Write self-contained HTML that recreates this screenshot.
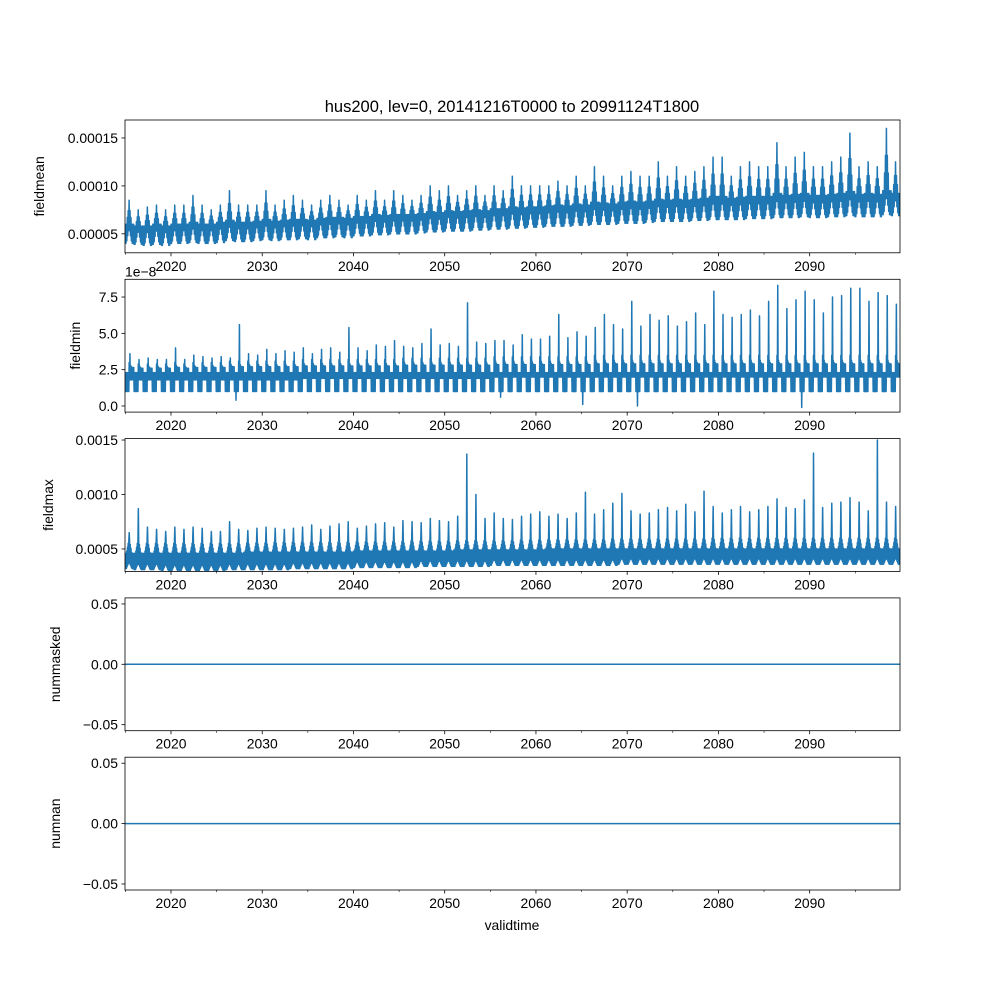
<!DOCTYPE html>
<html><head><meta charset="utf-8">
<style>
body{margin:0;background:#fff}
svg{display:block;font-family:"Liberation Sans","DejaVu Sans",sans-serif}
</style></head>
<body>
<svg id="chart" width="1000" height="1000" viewBox="0 0 1000 1000" xmlns="http://www.w3.org/2000/svg">
<rect width="1000" height="1000" fill="#fff"/>
<text x="512" y="112" font-size="16.5" text-anchor="middle">hus200, lev=0, 20141216T0000 to 20991124T1800</text>
<text x="512" y="930" font-size="13.9" text-anchor="middle">validtime</text>
</svg>
<script>
// ---- data ----
const years = [];
for (let y = 2015; y <= 2099; y++) years.push(y);
const meanPeak = [8.5,7.5,7.8,8,7.5,8,8,9,8,7.5,8,9.5,8,8,8,9.5,8,8.5,9,8.5,8,8.5,9,8.5,8,9,8.5,9.5,8.5,9.5,9,8.5,9,10,9.5,10,9,9.5,10,9,10,9.5,11,10,10,10,10,10.5,10,11,10,12,11,10,11,11.5,11,11,12.5,11,12,11,11.5,12,13,13,11,12,12.5,12,12,14.5,12,13,13.5,12,12,12.5,13,15.5,12,12.5,12,16,12.5];
const meanMid = [6,5.8,5.8,6,5.8,6,6,6.2,6,6,6.2,6.4,6.2,6.2,6.3,6.5,6.3,6.4,6.5,6.5,6.4,6.6,6.7,6.7,6.6,6.8,6.8,7,6.9,7,7,7,7.1,7.3,7.2,7.4,7.3,7.4,7.5,7.4,7.6,7.6,7.8,7.7,7.8,7.8,7.9,8,7.9,8.1,8,8.3,8.2,8.1,8.3,8.4,8.3,8.4,8.6,8.5,8.6,8.5,8.6,8.7,8.9,8.9,8.7,8.8,8.9,8.9,8.9,9.2,9,9.1,9.2,9,9,9.1,9.2,9.4,9.1,9.2,9.1,9.5,9.2];
const meanLow = [4,3.9,3.8,3.9,3.8,4,4,4.1,4,4,4.1,4.3,4.2,4.2,4.3,4.4,4.3,4.4,4.4,4.5,4.4,4.6,4.6,4.7,4.6,4.8,4.8,4.9,4.9,5,5,5,5.1,5.2,5.2,5.3,5.3,5.3,5.4,5.4,5.5,5.5,5.6,5.6,5.7,5.7,5.8,5.8,5.8,5.9,5.9,6,6,6,6.1,6.1,6.1,6.2,6.3,6.3,6.3,6.3,6.4,6.4,6.5,6.5,6.5,6.5,6.6,6.6,6.6,6.7,6.7,6.7,6.8,6.7,6.7,6.8,6.8,6.9,6.8,6.8,6.8,7,6.9];
const minSpike = [3.6,3.2,3.3,3.2,3.2,4,3.2,3.5,3.4,3.3,3.4,3.3,5.6,3.6,3.5,3.9,3.6,3.8,3.7,4,3.6,3.9,4,3.7,5.4,4,3.8,4.2,4.1,4.5,4.1,4,4.3,5.3,4.2,4.3,4.1,7.1,4.4,4.3,4.5,4.5,4.2,4.9,4.6,4.6,4.8,6.3,4.7,5.1,4.8,5.4,6.3,5.6,5.3,7.2,5.5,6.3,5.9,6.2,5.5,5.8,6.4,5.6,7.9,6.3,6.1,6.3,6.6,6.2,7.2,8.3,6.7,7.3,7.9,7.3,6.4,7.5,7.6,8.1,8.1,7.2,7.8,7.6,7];
const minHigh = [3,2.9,2.9,2.9,2.9,3,2.9,3,3,3,3,3.1,3.1,3.1,3.1,3.1,3.1,3.1,3.1,3.2,3.2,3.2,3.2,3.2,3.2,3.2,3.2,3.2,3.2,3.2,3.3,3.3,3.3,3.3,3.3,3.3,3.3,3.3,3.3,3.3,3.4,3.4,3.4,3.4,3.4,3.4,3.4,3.4,3.4,3.4,3.4,3.5,3.5,3.5,3.5,3.5,3.5,3.5,3.5,3.5,3.5,3.5,3.5,3.5,3.5,3.5,3.5,3.5,3.5,3.5,3.5,3.5,3.5,3.5,3.5,3.5,3.5,3.5,3.5,3.5,3.5,3.5,3.5,3.5,3.5];
const minLow = [1,1,1,1,1,1,1,1,1,1,1,1,0.4,1,1,1,1,1,1,1,1,1,1,1,1,1,1,1,1,1,1,1,1,1,1,1,1,1,1,1,1,0.6,1,1,1,1,1,1,1,1,0.1,1,1,1,1,1,0,1,1,1,1,1,1,1,1,1,1,1,1,1,1,1,1,1,-0.1,1,1,1,1,1,1,1,1,1,1];
const minCore = [1.8,1.8,1.8,1.8,1.8,1.8,1.8,1.8,1.8,1.8,1.8,1.8,1.8,1.8,1.8,1.8,1.8,1.8,1.8,1.9,1.9,1.9,1.9,1.9,1.9,1.9,1.9,1.9,1.9,1.9,1.9,1.9,1.9,1.9,1.9,1.9,1.9,1.9,1.9,1.9,2,2,2,2,2,2,2,2,2,2,2,2,2,2,2,2,2,2,2,2,2,2,2,2,2,2,2,2,2,2,2,2,2,2,2,2,2,2,2,2,2,2,2,2,2];
const maxSpike = [6.5,8.7,7,6.8,6.6,7,6.8,7,6.9,6.6,6.6,7.5,6.8,6.7,6.9,7,6.9,6.8,6.9,7,7.2,6.8,7.1,7.3,7.5,6.9,7.1,7.3,7.4,7,7.6,7.5,7.4,7.8,7.6,7.5,8,13.7,10,7.8,8.3,7.8,7.7,8,8.2,8.4,8,8.2,7.8,8.3,10.2,8.2,8.6,9.2,10.1,8.5,8.2,8.3,8.6,8.8,8.5,9.1,8.4,10.3,8.9,8.3,8.6,8.9,8.4,8.6,8.9,9.6,8.8,8.7,9.5,13.8,8.8,9.2,9.3,9.7,9.3,8.5,15,9.3,8.9,9.6,8.6,9.3,9.7,9.9,12,15,9.5,8.5,8.2];
const maxHump = [6,6,6,6,6,6,6,6,6,6,6,6,6,6,6,6,6.1,6.1,6.1,6.1,6.1,6.1,6.1,6.1,6.1,6.1,6.1,6.1,6.1,6.1,6.1,6.2,6.2,6.2,6.2,6.2,6.2,6.2,6.2,6.2,6.2,6.2,6.2,6.3,6.3,6.3,6.3,6.3,6.3,6.3,6.3,6.3,6.3,6.4,6.4,6.4,6.4,6.4,6.4,6.4,6.4,6.4,6.4,6.4,6.5,6.5,6.5,6.5,6.5,6.5,6.5,6.5,6.5,6.5,6.5,6.5,6.5,6.5,6.5,6.5,6.5,6.5,6.5,6.5,6.5];
const maxHigh = [4.6,4.6,4.6,4.6,4.6,4.6,4.6,4.6,4.6,4.6,4.6,4.6,4.6,4.7,4.7,4.7,4.7,4.7,4.7,4.7,4.7,4.7,4.7,4.7,4.7,4.8,4.8,4.8,4.8,4.8,4.8,4.8,4.8,4.8,4.8,4.8,4.9,4.9,4.9,4.9,4.9,4.9,4.9,4.9,4.9,4.9,5,5,5,5,5,5,5,5,5,5,5,5,5,5,5,5,5,5,5,5,5,5,5,5,5,5,5,5,5,5,5,5,5,5,5,5,5,5,5];
const maxLow = [3.2,3.1,3.1,3.1,3,3,3,3,3,3,3,3.1,3.1,3.1,3.1,3.1,3.1,3.1,3.2,3.2,3.2,3.2,3.2,3.2,3.2,3.3,3.3,3.3,3.3,3.3,3.3,3.3,3.4,3.4,3.4,3.4,3.4,3.4,3.4,3.4,3.5,3.5,3.5,3.5,3.5,3.5,3.5,3.5,3.5,3.5,3.5,3.5,3.5,3.5,3.6,3.6,3.6,3.6,3.6,3.6,3.6,3.6,3.6,3.6,3.6,3.6,3.6,3.6,3.6,3.6,3.6,3.6,3.6,3.6,3.6,3.6,3.6,3.6,3.6,3.6,3.6,3.6,3.6,3.6,3.6];
const zeroSeries = [0, 0];
const decadeTicks = [2020,2030,2040,2050,2060,2070,2080,2090];
const minorTicks = [2015,2025,2035,2045,2055,2065,2075,2085,2095];

// ---- layout ----
const NS = "http://www.w3.org/2000/svg";
const svg = document.getElementById('chart');
const L = 125, R = 900, T0 = 2014.96, T1 = 2099.9;
const xs = t => L + (t - T0) * (R - L) / (T1 - T0);
function mk(tag, attrs, parent) {
  const e = document.createElementNS(NS, tag);
  for (const k in attrs) e.setAttribute(k, attrs[k]);
  (parent || svg).appendChild(e);
  return e;
}
const panels = [
  {top:120, bot:252.8, lo:3.02e-5, hi:16.875e-5, ticks:[5e-5,10e-5,15e-5], labs:["0.00005","0.00010","0.00015"], name:"fieldmean", lx:44},
  {top:279.3, bot:412.1, lo:-0.42, hi:8.72, ticks:[0,2.5,5,7.5], labs:["0.0","2.5","5.0","7.5"], name:"fieldmin", lx:80},
  {top:438.6, bot:571.4, lo:0.000294, hi:0.001513, ticks:[0.0005,0.001,0.0015], labs:["0.0005","0.0010","0.0015"], name:"fieldmax", lx:53},
  {top:597.9, bot:730.7, lo:-0.055, hi:0.055, ticks:[-0.05,0,0.05], labs:["\u22120.05","0.00","0.05"], name:"nummasked", lx:60},
  {top:757.2, bot:890, lo:-0.055, hi:0.055, ticks:[-0.05,0,0.05], labs:["\u22120.05","0.00","0.05"], name:"numnan", lx:60}
];
panels.forEach((p, i) => {
  p.ys = v => p.bot - (v - p.lo) * (p.bot - p.top) / (p.hi - p.lo);
  const g = mk('g', {});
  
  
  const clipId = 'clip' + i;
  const cp = mk('clipPath', {id: clipId}, g);
  mk('rect', {x:L, y:p.top, width:R-L, height:p.bot-p.top}, cp);
  p.g = g; p.clip = clipId;
  p.ticks.forEach((v, k) => {
    const y = p.ys(v);
    const tl = mk('line', {x1:L-3.5, x2:L, y1:y, y2:y, stroke:'#000', 'stroke-width':0.8}, g);
    
    
    const tx = mk('text', {x:L-7, y:y+5, 'font-size':13.9, 'text-anchor':'end'}, g);
    
    
    tx.textContent = p.labs[k];
  });
  decadeTicks.forEach(t => {
    const x = xs(t);
    mk('line', {x1:x, x2:x, y1:p.bot, y2:p.bot+3.5, stroke:'#000', 'stroke-width':0.8}, g);
    const tx = mk('text', {x:x, y:p.bot+18, 'font-size':13.9, 'text-anchor':'middle'}, g);
    
    
    tx.textContent = t;
  });
  minorTicks.forEach(t => {
    const x = xs(t);
    mk('line', {x1:x, x2:x, y1:p.bot, y2:p.bot+2, stroke:'#000', 'stroke-width':0.6}, g);
  });
  const yl = mk('text', {x:0, y:0, 'font-size':13.9, 'text-anchor':'middle', transform:`translate(${p.lx},${(p.top+p.bot)/2}) rotate(-90)`}, g);
  
  
  yl.textContent = p.name;
});

function drawLine(p, pts, name) {
  let d = '';
  pts.forEach((q, k) => { d += (k ? 'L' : 'M') + xs(q[0]).toFixed(2) + ',' + p.ys(q[1]).toFixed(2); });
  const path = mk('path', {d:d, fill:'none', stroke:'#1f77b4', 'stroke-width':1.5, 'stroke-linejoin':'round', 'clip-path':`url(#${p.clip})`}, p.g);
  
  
}
const hump = f => Math.max(0, 1 - Math.abs(f - 0.45) / 0.3);

// panel 1: fieldmean
{
  const pts = [];
  years.forEach((y, i) => {
    const lo = meanLow[i]*1e-5, mid = meanMid[i]*1e-5, pk = meanPeak[i]*1e-5;
    const n = 20;
    for (let k = 0; k < n; k++) {
      const f = k / n;
      const w = hump(f);
      const hiV = mid + (pk - mid) * w * (k === 9 ? 1 : 0.85);
      const loV = lo + (mid - lo) * w * 0.8;
      pts.push([y - 0.04 + f, k % 2 ? hiV : loV]);
    }
  });
  drawLine(panels[0], pts, 'fieldmean-line');
}
// panel 2: fieldmin (1e-8)
{
  const pts = [];
  years.forEach((y, i) => {
    const n = 24;
    for (let k = 0; k < n; k++) {
      const f = k / n;
      let v;
      if (f < 0.45) v = k % 2 ? 2.3 : 1.0;
      else v = k % 2 ? (minHigh[i] + 2.3) / 2 + (minHigh[i] - 2.3) * 0.5 * hump(f) : minCore[i];
      if (k === 13) v = minSpike[i];
      if (k === 4) v = minLow[i];
      pts.push([y - 0.04 + f, v]);
    }
  });
  drawLine(panels[1], pts, 'fieldmin-line');
}
{
  const p = panels[1];
  const ot = mk('text', {x:125, y:p.top-3, 'font-size':13.9}, p.g);
  
  
  ot.textContent = '1e\u22128';
}
// panel 3: fieldmax (1e-4)
{
  const pts = [];
  years.forEach((y, i) => {
    const n = 26;
    for (let k = 0; k < n; k++) {
      const f = k / n;
      const w = hump(f);
      let v = (k % 2 ? maxHigh[i] + (maxHump[i] - maxHigh[i]) * w : maxLow[i] + 0.6 * w) * 1e-4;
      if (k === 12) v = maxSpike[i] * 1e-4;
      pts.push([y - 0.04 + f, v]);
    }
  });
  drawLine(panels[2], pts, 'fieldmax-line');
}
drawLine(panels[3], [[T0, zeroSeries[0]], [T1, zeroSeries[1]]], 'nummasked-line');
drawLine(panels[4], [[T0, zeroSeries[0]], [T1, zeroSeries[1]]], 'numnan-line');
panels.forEach(p => {
  const fr = mk('rect', {x:L, y:p.top, width:R-L, height:p.bot-p.top, fill:'none', stroke:'#000', 'stroke-width':0.8}, p.g);
  
  
});
</script>
</body></html>
